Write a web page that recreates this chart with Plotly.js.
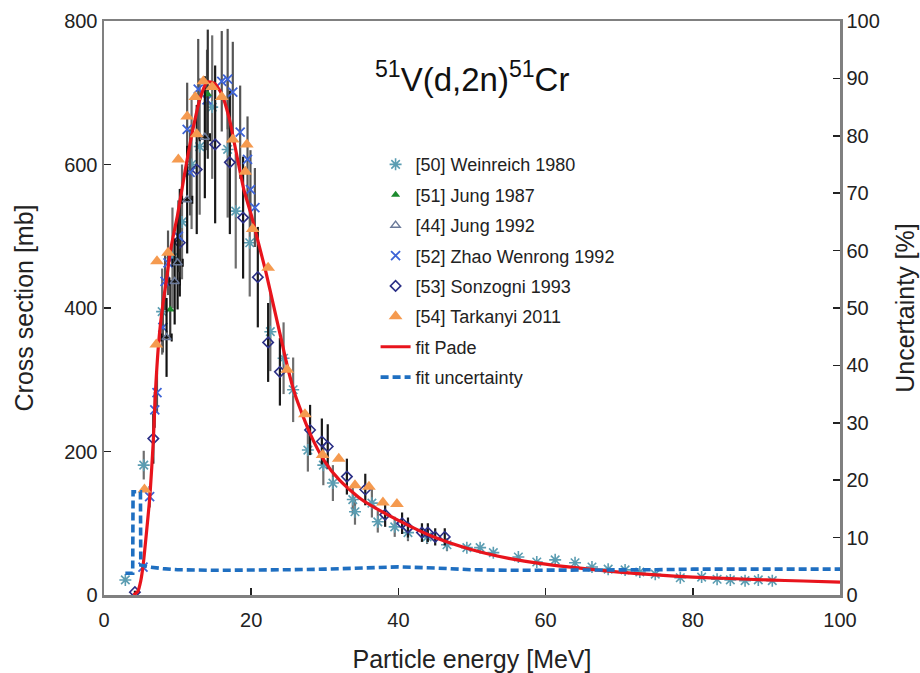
<!DOCTYPE html>
<html>
<head>
<meta charset="utf-8">
<script src="https://cdn.plot.ly/plotly-3.0.1.min.js"></script>
<style>html,body{margin:0;padding:0;background:#fff;}#chart{width:920px;height:673px;}</style>
</head>
<body>
<div id="chart"></div>
<script>
// ---- Data ----
const weinE = [2.9, 5.4, 7.9, 9.3, 10.6, 11.9, 13.0, 14.7, 16.8, 17.9, 19.8, 22.6, 24.4, 25.7, 27.7, 29.8, 31.1, 33.8, 34.1, 36.4, 37.2, 39.5, 41.3, 43.9, 46.6, 49.3, 51.1, 52.9, 56.3, 58.8, 61.3, 64.0, 66.3, 68.5, 70.8, 72.8, 74.9, 78.3, 81.2, 83.3, 85.1, 87.1, 88.9, 90.8];
const weinS = [21, 181, 395, 470, 520, 600, 625, 680, 621, 535, 491, 367, 330, 286, 202, 181, 156, 133, 116, 128, 102, 95, 87, 81, 70, 66, 66, 59, 53, 46, 49, 45, 39, 36, 35, 32, 29, 24, 25, 22, 21, 20, 21, 20];
const weinErr = [3, 20, 60, 70, 80, 90, 95, 100, 95, 80, 75, 55, 50, 45, 30, 28, 25, 20, 18, 20, 15, 14, 12, 10, 9, 0, 0, 0, 0, 0, 0, 0, 0, 0, 0, 0, 0, 0, 0, 0, 0, 0, 0, 0];

const jung87E = [9.0, 14.1];
const jung87S = [398, 698];
const jung87Err = [40, 90];

const jung92E = [8.5, 9.6, 10.0, 11.3, 13.7];
const jung92S = [359, 437, 463, 551, 638];
const jung92Err = [55, 60, 65, 75, 85];
const jung92Ex = [0.7, 0.7, 0.7, 0.7, 0.7];

const zhaoE = [5.3, 6.2, 6.9, 7.2, 8.0, 8.3, 8.7, 10.1, 11.3, 11.7, 12.8, 14.0, 16.0, 16.8, 17.5, 18.5, 19.5, 19.9, 20.5];
const zhaoS = [39, 137, 258, 282, 373, 437, 463, 500, 649, 589, 705, 690, 716, 719, 701, 645, 607, 565, 540];
const zhaoErr = [5, 15, 25, 28, 35, 40, 45, 50, 65, 60, 70, 70, 70, 70, 70, 65, 60, 55, 55];

const sonzE = [4.2, 6.7, 10.3, 12.6, 15.1, 17.1, 18.9, 20.9, 22.3, 23.9, 28.0, 29.6, 30.4, 33.0, 35.5, 38.2, 40.5, 41.3, 43.2, 44.0, 45.0, 46.3];
const sonzS = [4, 218, 491, 593, 628, 603, 526, 443, 352, 311, 230, 214, 207, 165, 147, 112, 100, 94, 87, 87, 81, 81];
const sonzErr = [2, 35, 75, 90, 110, 100, 85, 70, 55, 47, 35, 32, 31, 25, 22, 17, 15, 14, 13, 13, 12, 12];

const tarE = [5.5, 7.1, 7.2, 8.7, 10.1, 11.3, 12.4, 12.6, 13.5, 14.7, 16.0, 17.5, 19.2, 19.4, 20.2, 22.3, 24.9, 27.3, 29.7, 31.9, 34.1, 36.0, 37.9, 39.8];
const tarS = [147, 349, 465, 477, 607, 667, 694, 642, 716, 708, 694, 635, 590, 628, 510, 456, 314, 252, 195, 190, 153, 151, 129, 127];

const fitE = [4.0, 4.6, 5.0, 5.3, 5.8, 6.25, 6.7, 7.0, 7.5, 8.0, 8.5, 9.0, 9.5, 10, 11, 12, 13, 14, 15, 16, 17, 18, 19, 20, 21, 22, 23, 24, 25, 26, 28, 30, 32, 35, 40, 45, 50, 55, 60, 65, 70, 75, 80, 85, 90, 95, 100];
const fitS = [0, 5, 20, 40, 90, 140, 215, 285, 360, 405, 440, 478, 505, 530, 590, 645, 690, 715, 713, 698, 665, 615, 565, 530, 490, 450, 405, 360, 315, 278, 225, 186, 160, 133, 104, 80, 63, 51, 43, 37, 32, 28, 25, 23, 21, 19.5, 18];

const uncE = [2.9, 3.9, 3.95, 4.95, 5.0, 6, 8, 10, 15, 20, 25, 30, 35, 40, 45, 50, 55, 60, 65, 70, 75, 80, 85, 90, 95, 100];
const uncU = [3.8, 3.8, 18, 18, 5.2, 4.9, 4.6, 4.4, 4.3, 4.3, 4.4, 4.5, 4.7, 4.9, 4.7, 4.4, 4.3, 4.3, 4.3, 4.3, 4.4, 4.5, 4.5, 4.5, 4.5, 4.5];

const seriesNames = ['[50] Weinreich 1980', '[51] Jung 1987', '[44] Jung 1992', '[52] Zhao Wenrong 1992', '[53] Sonzogni 1993', '[54] Tarkanyi 2011', 'fit Pade', 'fit uncertainty'];
const titleText = '<sup>51</sup>V(d,2n)<sup>51</sup>Cr';
const xTitle = 'Particle energy [MeV]';
const yTitle = 'Cross section [mb]';
const y2Title = 'Uncertainty [%]';

// ---- Traces ----
const font = '"Liberation Sans", Arial, sans-serif';
function ebar(arr, color) {
  return {type: 'data', array: arr, visible: true, color: color, thickness: 2.2, width: 0};
}
const traces = [
  {x: weinE, y: weinS, name: seriesNames[0], type: 'scatter', mode: 'markers', legendrank: 1, legendgroup: 'a',
   marker: {symbol: 'asterisk-open', size: 10, color: '#5b9db2', line: {width: 1.6, color: '#5b9db2'}},
   error_y: ebar(weinErr, '#6e6e6e')},
  {x: sonzE, y: sonzS, name: seriesNames[4], type: 'scatter', mode: 'markers', legendrank: 5, legendgroup: 'e',
   marker: {symbol: 'diamond-open', size: 8, color: '#2b2f86', line: {width: 1.6, color: '#2b2f86'}},
   error_y: ebar(sonzErr, '#1a1a1a')},
  {x: zhaoE, y: zhaoS, name: seriesNames[3], type: 'scatter', mode: 'markers', legendrank: 4, legendgroup: 'd',
   marker: {symbol: 'x-thin-open', size: 9, color: '#3d63d6', line: {width: 1.8, color: '#3d63d6'}},
   error_y: ebar(zhaoErr, '#555555')},
  {x: jung87E, y: jung87S, name: seriesNames[1], type: 'scatter', mode: 'markers', legendrank: 2, legendgroup: 'b',
   marker: {symbol: 'triangle-up', size: 8, color: '#1c8a2e'},
   error_y: ebar(jung87Err, '#333333')},
  {x: jung92E, y: jung92S, name: seriesNames[2], type: 'scatter', mode: 'markers', legendrank: 3, legendgroup: 'c',
   marker: {symbol: 'triangle-up-open', size: 8, color: '#6b7a99', line: {width: 1.5, color: '#6b7a99'}},
   error_y: ebar(jung92Err, '#111111'),
   error_x: {type: 'data', array: jung92Ex, visible: true, color: '#111111', thickness: 2, width: 4}},
  {x: fitE, y: fitS, name: seriesNames[6], type: 'scatter', mode: 'lines', legendrank: 7, legendgroup: 'g',
   line: {color: '#e8141c', width: 3.2, shape: 'spline', smoothing: 0.6}},
  {x: tarE, y: tarS, name: seriesNames[5], type: 'scatter', mode: 'markers', legendrank: 6, legendgroup: 'f',
   marker: {symbol: 'triangle-up', size: 12, color: '#f59a4f'}},
  {x: uncE, y: uncU, name: seriesNames[7], type: 'scatter', mode: 'lines', yaxis: 'y2', legendrank: 8, legendgroup: 'h',
   line: {color: '#1f6fc1', width: 3.6, dash: '8px,4px'}}
];

const axisCommon = {
  showline: true, linecolor: '#808080', linewidth: 2.5, mirror: false,
  ticks: 'inside', ticklen: 7, tickwidth: 1.5, tickcolor: '#222',
  showgrid: false, zeroline: false,
  tickfont: {family: font, size: 20, color: '#222'}
};

const layout = {
  width: 920, height: 673,
  margin: {l: 104, r: 80, t: 21, b: 78},
  paper_bgcolor: '#fff', plot_bgcolor: '#fff',
  showlegend: true,
  legend: {x: 0.369, y: 0.782, xanchor: 'left', yanchor: 'top', bgcolor: 'rgba(0,0,0,0)',
           font: {family: font, size: 18, color: '#222'}, traceorder: 'grouped', tracegroupgap: 4},
  xaxis: Object.assign({}, axisCommon, {range: [0, 100], dtick: 20, mirror: true, ticklabelstandoff: 5,
    title: {text: xTitle, font: {family: font, size: 25, color: '#222'}, standoff: 22}}),
  yaxis: Object.assign({}, axisCommon, {range: [0, 800], dtick: 200,
    title: {text: yTitle, font: {family: font, size: 25, color: '#222'}, standoff: 24}}),
  yaxis2: Object.assign({}, axisCommon, {range: [0, 100], dtick: 10, overlaying: 'y', side: 'right',
    title: {text: y2Title, font: {family: font, size: 25, color: '#222'}, standoff: 18}}),
  annotations: [{text: titleText, xref: 'paper', yref: 'paper', x: 0.5, y: 0.903, xanchor: 'center', yanchor: 'middle',
                 showarrow: false, font: {family: font, size: 33, color: '#111'}}]
};

Plotly.newPlot('chart', traces, layout, {staticPlot: true});
</script>
</body>
</html>
